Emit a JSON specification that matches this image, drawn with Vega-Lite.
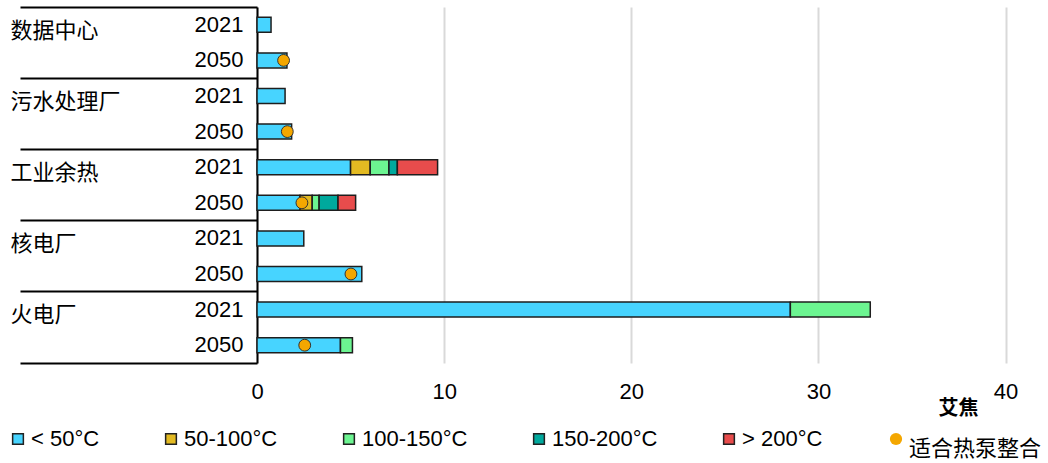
{
  "$schema": "https://vega.github.io/schema/vega-lite/v6.json",
  "width": 786,
  "height": 356,
  "autosize": {"type": "none"},
  "padding": {"left": 257, "top": 7, "right": 5, "bottom": 100},
  "config": {"view": {"stroke": null}, "font": "Liberation Sans", "legend": {"padding": 0}},
  "datasets": {
    "bars": [
      {"row": "数据中心-2021", "band": "< 50°C", "ord": 1, "value": 0.75},
      {"row": "数据中心-2050", "band": "< 50°C", "ord": 1, "value": 1.6},
      {"row": "污水处理厂-2021", "band": "< 50°C", "ord": 1, "value": 1.5},
      {"row": "污水处理厂-2050", "band": "< 50°C", "ord": 1, "value": 1.85},
      {"row": "工业余热-2021", "band": "< 50°C", "ord": 1, "value": 5.0},
      {"row": "工业余热-2021", "band": "50-100°C", "ord": 2, "value": 1.05},
      {"row": "工业余热-2021", "band": "100-150°C", "ord": 3, "value": 1.0},
      {"row": "工业余热-2021", "band": "150-200°C", "ord": 4, "value": 0.45},
      {"row": "工业余热-2021", "band": "> 200°C", "ord": 5, "value": 2.15},
      {"row": "工业余热-2050", "band": "< 50°C", "ord": 1, "value": 2.3},
      {"row": "工业余热-2050", "band": "50-100°C", "ord": 2, "value": 0.65},
      {"row": "工业余热-2050", "band": "100-150°C", "ord": 3, "value": 0.37},
      {"row": "工业余热-2050", "band": "150-200°C", "ord": 4, "value": 1.01},
      {"row": "工业余热-2050", "band": "> 200°C", "ord": 5, "value": 0.94},
      {"row": "核电厂-2021", "band": "< 50°C", "ord": 1, "value": 2.5},
      {"row": "核电厂-2050", "band": "< 50°C", "ord": 1, "value": 5.6},
      {"row": "火电厂-2021", "band": "< 50°C", "ord": 1, "value": 28.5},
      {"row": "火电厂-2021", "band": "100-150°C", "ord": 3, "value": 4.27},
      {"row": "火电厂-2050", "band": "< 50°C", "ord": 1, "value": 4.46},
      {"row": "火电厂-2050", "band": "100-150°C", "ord": 3, "value": 0.64}
    ],
    "dots": [
      {"row": "数据中心-2050", "value": 1.42},
      {"row": "污水处理厂-2050", "value": 1.62},
      {"row": "工业余热-2050", "value": 2.4},
      {"row": "核电厂-2050", "value": 5.02},
      {"row": "火电厂-2050", "value": 2.55}
    ],
    "groups": [
      {"group": "数据中心"},
      {"group": "污水处理厂"},
      {"group": "工业余热"},
      {"group": "核电厂"},
      {"group": "火电厂"}
    ]
  },
  "layer": [
    {
      "layer": [
        {
          "data": {"name": "bars"},
          "mark": {"type": "bar", "stroke": "#1e1e1e", "strokeWidth": 1.5, "height": {"band": 0.42}},
          "encoding": {
            "y": {
              "field": "row", "type": "nominal",
              "sort": ["数据中心-2021", "数据中心-2050", "污水处理厂-2021", "污水处理厂-2050", "工业余热-2021", "工业余热-2050", "核电厂-2021", "核电厂-2050", "火电厂-2021", "火电厂-2050"],
              "scale": {"type": "band", "paddingInner": 0, "paddingOuter": 0},
              "axis": {"title": null, "labelExpr": "slice(datum.label, -4)", "ticks": false, "domain": true, "domainColor": "#000", "domainWidth": 2, "grid": false, "labelFont": "Liberation Sans", "labelFontSize": 22, "labelColor": "#000", "labelPadding": 14}
            },
            "x": {
              "field": "value", "type": "quantitative", "stack": "zero",
              "scale": {"domain": [0, 42], "nice": false, "zero": true},
              "axis": {"values": [0, 10, 20, 30, 40], "title": "艾焦", "titleX": 701, "titleY": 45, "titleFont": "Noto Sans CJK SC", "titleFontSize": 20, "titleFontWeight": "bold", "titleAlign": "center", "titleBaseline": "middle", "titleColor": "#000", "domain": false, "ticks": false, "grid": true, "gridColor": "#d9d9d9", "gridWidth": 2, "labelFont": "Liberation Sans", "labelFontSize": 22, "labelPadding": 18, "labelColor": "#000", "labelFlush": false}
            },
            "color": {
              "field": "band", "type": "nominal",
              "scale": {"domain": ["< 50°C", "50-100°C", "100-150°C", "150-200°C", "> 200°C"], "range": ["#47D4FF", "#E3BA22", "#6CF591", "#00A99D", "#E84C4C"]},
              "legend": {"orient": "none", "legendX": -250, "legendY": 421, "direction": "horizontal", "title": null, "symbolType": "square", "symbolSize": 115, "symbolStrokeColor": "#222", "symbolStrokeWidth": 1.5, "labelFont": "Liberation Sans", "labelFontSize": 22, "labelColor": "#000", "labelOffset": 2, "columnPadding": 60}
            },
            "order": {"field": "ord", "type": "quantitative"}
          }
        },
        {
          "data": {"name": "dots"},
          "mark": {"type": "point", "filled": true, "fill": "#F4A700", "stroke": "#333", "strokeWidth": 1, "size": 140, "opacity": 1},
          "encoding": {
            "y": {
              "field": "row", "type": "nominal",
              "sort": ["数据中心-2021", "数据中心-2050", "污水处理厂-2021", "污水处理厂-2050", "工业余热-2021", "工业余热-2050", "核电厂-2021", "核电厂-2050", "火电厂-2021", "火电厂-2050"]
            },
            "x": {"field": "value", "type": "quantitative"},
            "shape": {
              "datum": "适合热泵整合",
              "scale": {"range": ["circle"]},
              "legend": {"orient": "none", "legendX": 628, "legendY": 421, "title": null, "symbolSize": 150, "symbolFillColor": "#F4A700", "symbolStrokeColor": "#333", "symbolStrokeWidth": 1, "labelFont": "Noto Sans CJK SC", "labelFontSize": 22, "labelColor": "#000", "labelBaseline": "top", "labelOffset": 2}
            }
          }
        }
      ]
    },
    {
      "data": {"name": "groups"},
      "mark": {"type": "point", "opacity": 0},
      "encoding": {
        "y": {
          "field": "group", "type": "nominal",
          "sort": ["数据中心", "污水处理厂", "工业余热", "核电厂", "火电厂"],
          "scale": {"type": "band", "paddingInner": 0, "paddingOuter": 0},
          "axis": {"orient": "left", "title": null, "domain": false, "grid": false, "ticks": true, "tickSize": 237, "tickColor": "#000", "tickWidth": 2, "bandPosition": 1, "tickExtra": true, "labelAlign": "left", "labelPadding": 10, "labelFont": "Noto Sans CJK SC", "labelFontSize": 22, "labelColor": "#000", "labelOffset": -12, "labelBaseline": "middle"}
        },
        "x": {"datum": 0}
      }
    }
  ],
  "resolve": {"scale": {"y": "independent"}, "axis": {"y": "independent"}}
}
